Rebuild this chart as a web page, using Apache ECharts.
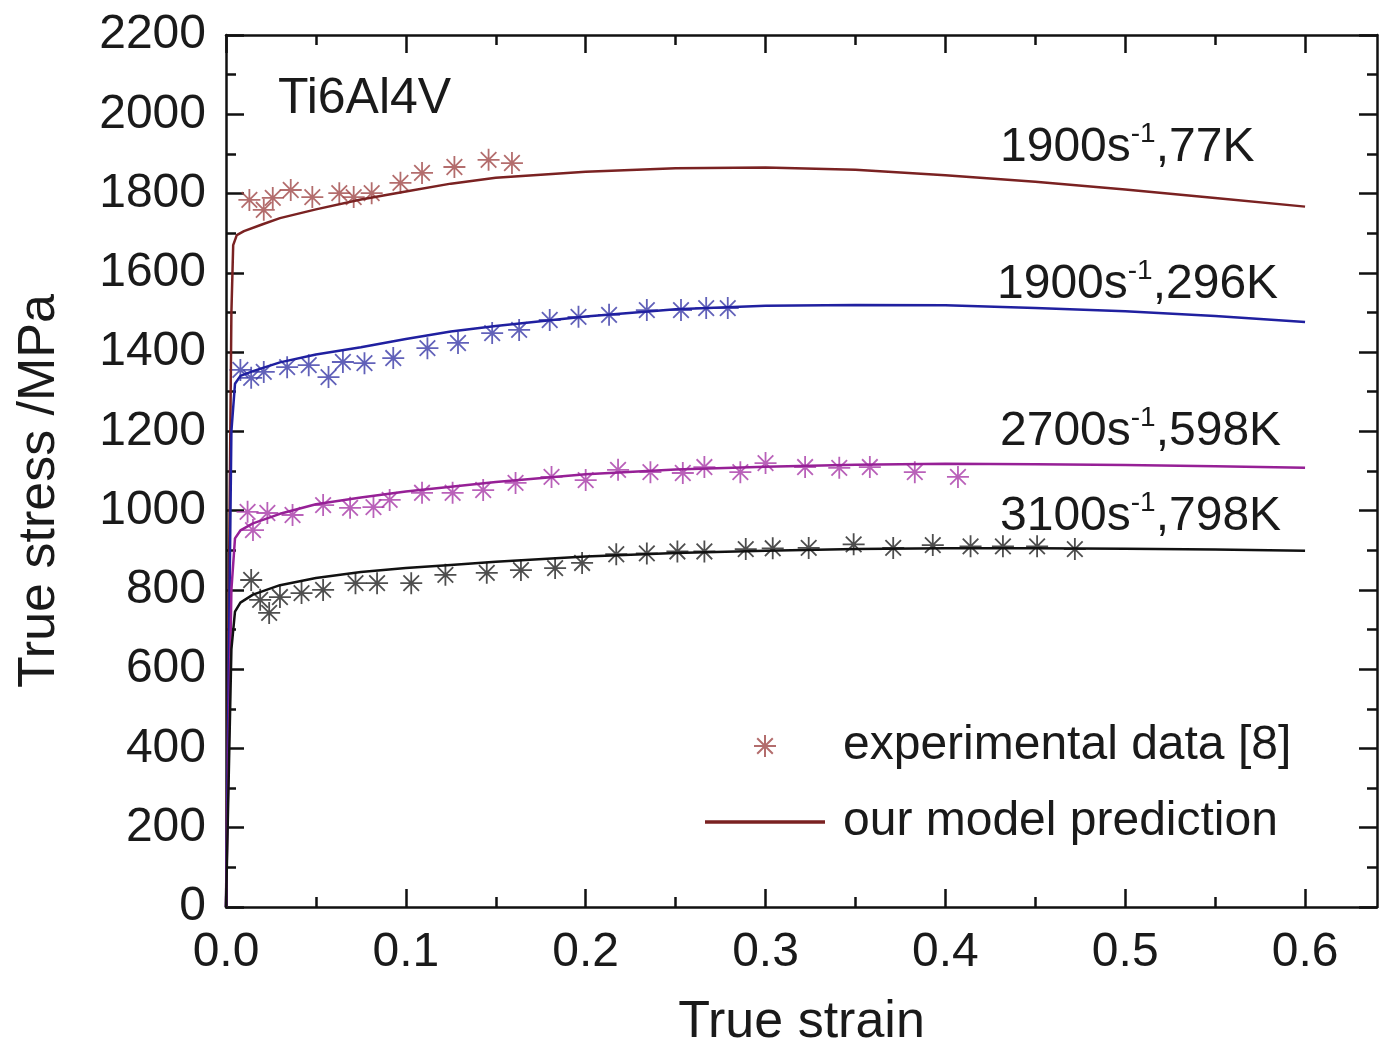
<!DOCTYPE html>
<html>
<head>
<meta charset="utf-8">
<script src="https://cdn.jsdelivr.net/npm/echarts@6/dist/echarts.min.js"></script>
<style>
  html, body { margin: 0; padding: 0; background: #fff; }
  #chart { width: 1380px; height: 1049px; }
</style>
</head>
<body>
<div id="chart"></div>
<script>
// tick values
var xMajor = [0, 0.1, 0.2, 0.3, 0.4, 0.5, 0.6]
var xMinor = [0.05, 0.15, 0.25, 0.35, 0.45, 0.55]

// model prediction curves [strain, stress]
var model77 = [[0, 0], [0.003, 1500], [0.004, 1670], [0.006, 1695], [0.01, 1705], [0.02, 1722], [0.03, 1738], [0.05, 1760], [0.075, 1785], [0.1, 1805], [0.125, 1825], [0.15, 1840], [0.2, 1855], [0.25, 1864], [0.3, 1866], [0.35, 1860], [0.4, 1846], [0.45, 1830], [0.5, 1810], [0.55, 1789], [0.6, 1767]]
var model296 = [[0, 0], [0.003, 1200], [0.005, 1320], [0.008, 1340], [0.015, 1352], [0.03, 1374], [0.05, 1394], [0.075, 1412], [0.1, 1433], [0.125, 1452], [0.15, 1466], [0.2, 1490], [0.25, 1508], [0.3, 1517], [0.35, 1519], [0.4, 1518], [0.45, 1511], [0.5, 1503], [0.55, 1491], [0.6, 1476]]
var model598 = [[0, 0], [0.003, 800], [0.005, 930], [0.008, 950], [0.015, 968], [0.03, 992], [0.05, 1016], [0.075, 1033], [0.1, 1048], [0.125, 1060], [0.15, 1072], [0.2, 1092], [0.25, 1104], [0.3, 1111], [0.35, 1116], [0.4, 1118], [0.45, 1117], [0.5, 1115], [0.55, 1112], [0.6, 1108]]
var model798 = [[0, 0], [0.003, 650], [0.005, 745], [0.008, 768], [0.015, 788], [0.03, 812], [0.05, 830], [0.075, 845], [0.1, 855], [0.125, 863], [0.15, 871], [0.2, 884], [0.25, 893], [0.3, 899], [0.35, 903], [0.4, 905], [0.45, 905], [0.5, 904], [0.55, 902], [0.6, 899]]

// experimental data [8]
var exp77 = [[0.013, 1784], [0.021, 1759], [0.026, 1789], [0.036, 1809], [0.048, 1791], [0.063, 1801], [0.071, 1791], [0.081, 1801], [0.097, 1827], [0.109, 1852], [0.127, 1867], [0.146, 1885], [0.159, 1877]]
var exp296 = [[0.008, 1355], [0.014, 1335], [0.021, 1350], [0.034, 1362], [0.046, 1367], [0.057, 1337], [0.065, 1375], [0.077, 1372], [0.093, 1385], [0.112, 1410], [0.129, 1423], [0.148, 1448], [0.163, 1456], [0.18, 1481], [0.196, 1489], [0.213, 1494], [0.234, 1506], [0.253, 1506], [0.267, 1511], [0.279, 1511]]
var exp598 = [[0.012, 997], [0.015, 951], [0.023, 994], [0.037, 989], [0.054, 1014], [0.069, 1007], [0.082, 1009], [0.091, 1027], [0.109, 1045], [0.126, 1045], [0.143, 1052], [0.161, 1070], [0.181, 1085], [0.2, 1077], [0.218, 1103], [0.236, 1097], [0.254, 1095], [0.266, 1110], [0.286, 1097], [0.3, 1120], [0.322, 1110], [0.341, 1108], [0.358, 1110], [0.383, 1097], [0.407, 1085]]
var exp798 = [[0.014, 825], [0.019, 775], [0.024, 742], [0.03, 782], [0.042, 792], [0.054, 800], [0.072, 817], [0.084, 817], [0.103, 817], [0.122, 838], [0.145, 843], [0.164, 850], [0.183, 855], [0.198, 868], [0.217, 890], [0.234, 892], [0.251, 897], [0.266, 897], [0.289, 903], [0.304, 905], [0.324, 906], [0.349, 915], [0.371, 906], [0.393, 913], [0.414, 910], [0.432, 910], [0.451, 910], [0.472, 903]]

var FONT = 'Liberation Sans'
var STAR = 'path://M12 0L12 24M0 12L24 12M3.5 3.5L20.5 20.5M20.5 3.5L3.5 20.5'

function modelSeries (name, data, color) {
  return {
    name: name,
    type: 'line',
    data: data,
    symbol: 'none',
    smooth: false,
    z: 3,
    lineStyle: { color: color, width: 2.5 },
    itemStyle: { color: color }
  }
}
function expSeries (name, data, color) {
  return {
    name: name,
    type: 'scatter',
    data: data,
    symbol: STAR,
    symbolSize: 22,
    z: 2,
    itemStyle: { color: color, borderColor: color, borderWidth: 1.8 }
  }
}

function xAxisOf (pos, ticks, len, showLine, labels) {
  return {
    type: 'value',
    position: pos,
    min: 0,
    max: 0.64,
    axisLine: { show: showLine, onZero: false, lineStyle: { color: '#111', width: 2.5 } },
    axisTick: { show: true, inside: true, length: len, customValues: ticks, lineStyle: { color: '#111', width: 2.5 } },
    axisLabel: labels ? {
      show: true, customValues: xMajor, margin: 22, color: '#1a1a1a', fontFamily: FONT, fontSize: 48,
      formatter: function (v) { return v.toFixed(1) }
    } : { show: false },
    splitLine: { show: false }
  }
}
function yAxisOf (pos, labels) {
  return {
    type: 'value',
    position: pos,
    min: 0,
    max: 2200,
    interval: 200,
    axisLine: { show: true, onZero: false, lineStyle: { color: '#111', width: 2.5 } },
    axisTick: { show: true, inside: true, length: 18, lineStyle: { color: '#111', width: 2.5 } },
    minorTick: { show: true, splitNumber: 2, length: 10, lineStyle: { color: '#111', width: 2.5 } },
    axisLabel: labels ? {
      show: true, margin: 20, color: '#1a1a1a', fontFamily: FONT, fontSize: 48,
      formatter: function (v) { return String(v) }
    } : { show: false },
    splitLine: { show: false }
  }
}

function annot (txt, sup, rest, x, y) {
  return {
    type: 'text',
    x: x,
    y: y,
    z: 10,
    style: {
      text: '{a|' + txt + '}{s|' + sup + '}{a|' + rest + '}',
      verticalAlign: 'middle',
      rich: {
        a: { fontFamily: FONT, fontSize: 48, lineHeight: 52, fill: '#1a1a1a', verticalAlign: 'bottom' },
        s: { fontFamily: FONT, fontSize: 28, lineHeight: 26, fill: '#1a1a1a', verticalAlign: 'top' }
      }
    }
  }
}

var chart = echarts.init(document.getElementById('chart'))
var xb = xAxisOf('bottom', xMajor, 18, true, true)
xb.name = 'True strain'
xb.nameLocation = 'middle'
xb.nameGap = 90
xb.nameTextStyle = { fontFamily: FONT, fontSize: 52, color: '#1a1a1a' }
var yl = yAxisOf('left', true)
yl.name = 'True stress /MPa'
yl.nameLocation = 'middle'
yl.nameGap = 160
yl.nameTextStyle = { fontFamily: FONT, fontSize: 52, color: '#1a1a1a', padding: [0, 40, 0, 0] }

var option = {
  backgroundColor: '#fff',
  animation: false,
  grid: { left: 226, right: 3, top: 35, bottom: 142, containLabel: false, outerBoundsMode: 'none' },
  xAxis: [
    xb,
    xAxisOf('bottom', xMinor, 10, false, false),
    xAxisOf('top', xMajor, 18, true, false),
    xAxisOf('top', xMinor, 10, false, false)
  ],
  yAxis: [yl, yAxisOf('right', false)],
  legend: {
    orient: 'vertical',
    left: 700,
    top: 717,
    itemWidth: 120,
    itemHeight: 22,
    itemGap: 28,
    data: [
      { name: 'experimental data [8]' },
      { name: 'our model prediction', icon: 'path://M7 0H117V3H7Z' }
    ],
    textStyle: { fontFamily: FONT, fontSize: 48, color: '#1a1a1a', padding: [0, 0, 0, 13] }
  },
  graphic: [
    { type: 'text', x: 278, y: 99, style: { text: 'Ti6Al4V', fontFamily: FONT, fontSize: 50, fill: '#1a1a1a', verticalAlign: 'middle' } },
    annot('1900s', '-1', ',77K', 1000, 146),
    annot('1900s', '-1', ',296K', 997, 283),
    annot('2700s', '-1', ',598K', 1000, 430),
    annot('3100s', '-1', ',798K', 1000, 515)
  ],
  series: [
    expSeries('experimental data [8]', exp77, '#a04848'),
    expSeries('exp 296K', exp296, '#3a3aa8'),
    expSeries('exp 598K', exp598, '#a83aa8'),
    expSeries('exp 798K', exp798, '#222222'),
    modelSeries('our model prediction', model77, '#7a2222'),
    modelSeries('model 296K', model296, '#2020a0'),
    modelSeries('model 598K', model598, '#962096'),
    modelSeries('model 798K', model798, '#111111')
  ]
}
chart.setOption(option)
</script>
</body>
</html>
